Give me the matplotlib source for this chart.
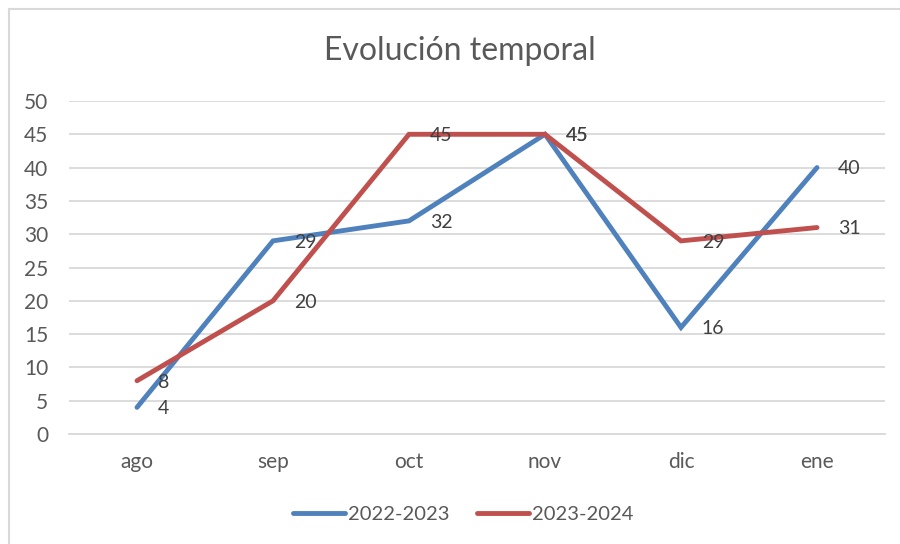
import matplotlib.pyplot as plt
from matplotlib.lines import Line2D

months = ["ago", "sep", "oct", "nov", "dic", "ene"]
serie_2022 = [4, 29, 32, 45, 16, 40]
serie_2023 = [8, 20, 45, 45, 29, 31]
labels = ["2022-2023", "2023-2024"]
yticks = [0, 5, 10, 15, 20, 25, 30, 35, 40, 45, 50]

BLUE = "#4F81BD"
RED = "#C0504D"
GREY_TXT = "#595959"
GRID = "#D9D9D9"

plt.rcParams["font.family"] = ["Lato", "DejaVu Sans"]

fig = plt.figure(figsize=(9, 5.44), dpi=100)
ax = fig.add_axes([69 / 900, (544 - 434) / 544, (885 - 69) / 900, (434 - 101) / 544])

x = list(range(len(months)))
ax.plot(x, serie_2022, color=BLUE, lw=3.5, solid_capstyle="round", solid_joinstyle="miter", zorder=3)
ax.plot(x, serie_2023, color=RED, lw=3.5, solid_capstyle="round", solid_joinstyle="miter", zorder=3)

# data labels to the right of each point, like Excel
for series in (serie_2022, serie_2023):
    for xi, v in zip(x, series):
        ax.annotate(str(v), (xi, v), xytext=(15, -1), textcoords="offset points",
                    ha="left", va="center", fontsize=14, color="#404040", zorder=4)

ax.set_xlim(-0.5, len(months) - 0.5)
ax.set_ylim(0, 50)
ax.set_yticks(yticks)
ax.set_xticks(x)
ax.set_xticklabels(months)
ax.tick_params(axis="both", length=0, labelsize=15, labelcolor=GREY_TXT)
ax.tick_params(axis="y", pad=15)
ax.tick_params(axis="x", pad=13)

ax.grid(axis="y", color=GRID, lw=1.3)
ax.set_axisbelow(True)
for side in ("top", "right", "left"):
    ax.spines[side].set_visible(False)
ax.spines["bottom"].set_color(GRID)
ax.spines["bottom"].set_linewidth(1.3)

fig.text(460 / 900, 1 - 51 / 544, "Evolución temporal", ha="center", va="center",
         fontsize=23, color=GREY_TXT)

handles = [Line2D([0], [0], color=BLUE, lw=3.5, solid_capstyle="round"),
           Line2D([0], [0], color=RED, lw=3.5, solid_capstyle="round")]
fig.legend(handles, labels, loc="center", bbox_to_anchor=(463 / 900, 1 - 514 / 544),
           ncol=2, frameon=False, fontsize=14.5, labelcolor=GREY_TXT,
           handlelength=2.6, handletextpad=0.15, columnspacing=1.35)

# chart border (top and left edges visible)
fig.add_artist(Line2D([9 / 900, 9 / 900], [0, 1 - 9 / 544], transform=fig.transFigure,
                      color="#D9D9D9", lw=1.5))
fig.add_artist(Line2D([9 / 900, 1], [1 - 9 / 544, 1 - 9 / 544], transform=fig.transFigure,
                      color="#D9D9D9", lw=1.5))

fig.savefig("out.png", dpi=100)
